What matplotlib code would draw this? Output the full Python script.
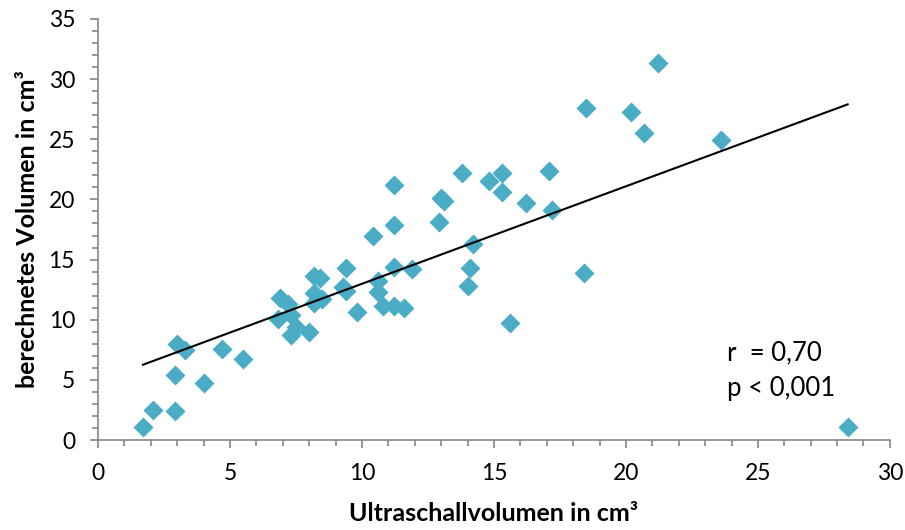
import matplotlib.pyplot as plt
import numpy as np

# ultrasound volume vs. calculated volume (cm³)
ultraschall = [1.7, 2.1, 2.9, 2.9, 3.0, 3.3, 4.0, 4.7, 5.5, 6.9,
               7.2, 6.8, 7.3, 7.3, 7.5, 8.0, 8.2, 8.4, 8.2, 8.5,
               8.2, 9.4, 9.3, 9.4, 9.8, 10.4, 10.6, 10.6, 10.8, 11.2,
               11.6, 11.2, 11.2, 11.2, 11.9, 12.9, 13.0, 13.1, 13.8, 14.0,
               14.1, 14.2, 14.8, 15.3, 15.3, 15.6, 16.2, 17.1, 17.2, 18.4,
               18.5, 20.2, 20.7, 21.2, 23.6, 28.4]
berechnet = [1.1, 2.5, 2.4, 5.4, 8.0, 7.5, 4.7, 7.6, 6.7, 11.8,
             11.3, 10.1, 10.4, 8.7, 9.4, 9.0, 13.6, 13.5, 12.2, 11.7,
             11.4, 14.3, 12.7, 12.4, 10.6, 17.0, 13.2, 12.3, 11.1, 11.1,
             11.0, 21.2, 17.9, 14.4, 14.2, 18.1, 20.1, 19.9, 22.2, 12.8,
             14.3, 16.3, 21.5, 22.2, 20.6, 9.7, 19.7, 22.4, 19.1, 13.9,
             27.6, 27.3, 25.5, 31.3, 24.9, 1.1]

x_ticks = [0, 5, 10, 15, 20, 25, 30]
y_ticks = [0, 5, 10, 15, 20, 25, 30, 35]
r_text = "r  = 0,70"
p_text = "p < 0,001"

FONT = "Lato"
GREY = "#868686"

fig = plt.figure(figsize=(9.05, 5.3), dpi=100)
ax = fig.add_axes([0.1083, 0.1698, 0.875, 0.7944])

x = np.array(ultraschall)
y = np.array(berechnet)
ax.scatter(x, y, marker="D", s=104, color="#4BACC6", linewidths=0, zorder=2)

# linear trend line over the data range
slope, intercept = np.polyfit(x, y, 1)
xs = np.array([x.min(), x.max()])
ax.plot(xs, slope * xs + intercept, color="black", lw=1.5, zorder=3)

ax.set_xlim(0, 30)
ax.set_ylim(0, 35)
ax.set_xticks(x_ticks)
ax.set_yticks(y_ticks)
ax.set_xticks(np.arange(0, 31, 1), minor=True)
ax.set_yticks(np.arange(0, 36, 1), minor=True)

for side in ["top", "right"]:
    ax.spines[side].set_visible(False)
for side in ["left", "bottom"]:
    ax.spines[side].set_color(GREY)
    ax.spines[side].set_linewidth(1.2)

ax.tick_params(which="major", direction="out", length=5.5, width=1.2, color=GREY,
               labelsize=16.5, pad=11)
ax.tick_params(which="minor", direction="out", length=4, width=1.2, color=GREY)
for lbl in ax.get_xticklabels() + ax.get_yticklabels():
    lbl.set_fontfamily(FONT)

ax.set_xlabel("Ultraschallvolumen in cm³", fontsize=18, fontweight="bold",
              family=FONT)
ax.set_ylabel("berechnetes Volumen in cm³", fontsize=18, fontweight="bold",
              family=FONT)
ax.xaxis.set_label_coords(0.5, -0.148)
ax.yaxis.set_label_coords(-0.074, 0.5)

ax.text(23.83, 7.23, r_text, fontsize=18.5, family=FONT, va="center", ha="left")
ax.text(23.83, 4.32, p_text, fontsize=18.5, family=FONT, va="center", ha="left")

fig.savefig("out.png", dpi=100)
